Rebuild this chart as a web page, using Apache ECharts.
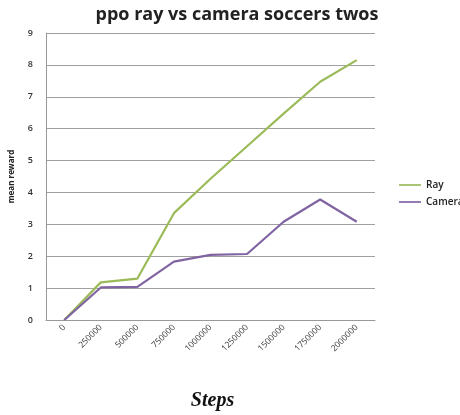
<!DOCTYPE html>
<html>
<head>
<meta charset="utf-8">
<script src="https://cdn.jsdelivr.net/npm/echarts@6/dist/echarts.min.js"></script>
<style>
html,body{margin:0;padding:0;background:#fff;}
#chart{width:460px;height:415px;}
</style>
</head>
<body>
<div id="chart"></div>
<script>
// Training steps and mean reward per agent
const steps = ['0','250000','500000','750000','1000000','1250000','1500000','1750000','2000000'];
const rayReward = [0, 1.18, 1.3, 3.35, 4.43, 5.45, 6.47, 7.47, 8.15];
const cameraReward = [0, 1.02, 1.04, 1.83, 2.04, 2.07, 3.08, 3.78, 3.08];
const yTicks = [0, 9, 1];

const chart = echarts.init(document.getElementById('chart'));
chart.setOption({
  animation: false,
  backgroundColor: '#fff',
  title: {
    text: 'ppo ray vs camera soccers twos',
    left: 232, top: 1, textAlign: 'center',
    textStyle: { fontFamily: 'Open Sans', fontWeight: 'bold', fontSize: 18, color: '#222' }
  },
  legend: {
    orient: 'vertical', left: 394, top: 175, itemGap: 7,
    itemWidth: 22, itemHeight: 10,
    textStyle: { fontFamily: 'Open Sans', fontWeight: 600, fontSize: 10, color: '#222' },
    data: [
      { name: 'Ray', icon: 'path://M0,4 L26,4 L26,6 L0,6 Z' },
      { name: 'Camera', icon: 'path://M0,4 L26,4 L26,6 L0,6 Z' }
    ]
  },
  grid: { left: 46, right: 85, top: 33, bottom: 95, outerBoundsMode: 'none', containLabel: false },
  xAxis: {
    type: 'category', data: steps, boundaryGap: true,
    name: 'Steps', nameLocation: 'middle', nameGap: 71,
    nameTextStyle: { fontFamily: 'Liberation Serif', fontWeight: 'bold', fontStyle: 'italic', fontSize: 20, color: '#111', padding: [0, 0, 0, 4] },
    axisLine: { lineStyle: { color: '#999', width: 1 } },
    axisTick: { show: false },
    axisLabel: { rotate: 45, fontFamily: 'Open Sans', fontSize: 8.5, color: '#333', margin: 6 }
  },
  yAxis: {
    type: 'value', min: yTicks[0], max: yTicks[1], interval: yTicks[2],
    name: 'mean reward', nameLocation: 'middle', nameGap: 30, nameRotate: 90,
    nameTextStyle: { fontFamily: 'Open Sans', fontWeight: 'bold', fontSize: 8, color: '#222' },
    axisLine: { show: true, lineStyle: { color: '#999', width: 1 } },
    axisTick: { show: false },
    axisLabel: { fontFamily: 'Open Sans', fontWeight: 600, fontSize: 9, color: '#333', margin: 13 },
    splitLine: { lineStyle: { color: '#a0a0a0', width: 1 } }
  },
  series: [
    { name: 'Ray', type: 'line', data: rayReward, showSymbol: false, symbol: 'none',
      lineStyle: { color: '#9bbb59', width: 2.2 }, itemStyle: { color: '#9bbb59' } },
    { name: 'Camera', type: 'line', data: cameraReward, showSymbol: false, symbol: 'none',
      lineStyle: { color: '#8064a2', width: 2.2 }, itemStyle: { color: '#8064a2' } }
  ]
});
</script>
</body>
</html>
